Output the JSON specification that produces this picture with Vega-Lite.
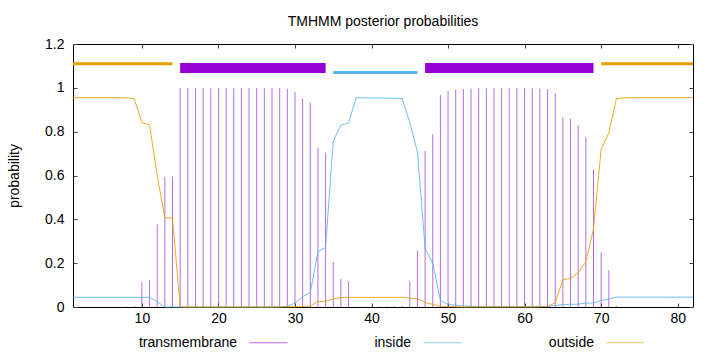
{
  "$schema": "https://vega.github.io/schema/vega-lite/v6.json",
  "width": 620,
  "height": 263,
  "autosize": {"type": "none"},
  "padding": {"left": 73, "top": 44, "right": 27, "bottom": 45},
  "background": "white",
  "title": {"text": "TMHMM posterior probabilities", "font": "Liberation Sans", "fontSize": 14, "fontWeight": "normal", "color": "black", "anchor": "middle", "offset": 8},
  "config": {
    "view": {"stroke": "black", "strokeWidth": 1},
    "font": "Liberation Sans",
    "axis": {"labelFont": "Liberation Sans", "labelFontSize": 14, "labelColor": "black", "titleFont": "Liberation Sans", "titleFontSize": 14, "titleFontWeight": "normal", "titleColor": "black", "grid": false, "domain": false, "tickColor": "#444", "tickSize": -4, "labelPadding": 8},
    "legend": {"orient": "none", "legendX": 176, "legendY": 279, "direction": "horizontal", "symbolType": "stroke", "symbolSize": 1444, "symbolStrokeWidth": 1, "labelFont": "Liberation Sans", "labelFontSize": 14, "labelColor": "black", "labelAlign": "right", "labelOffset": -51, "columnPadding": 84, "title": null, "labelLimit": 300}
  },
  "datasets": {
    "probs": [
      {"pos": 1, "transmembrane": 0.001, "inside": 0.044, "outside": 0.955},
      {"pos": 2, "transmembrane": 0.001, "inside": 0.044, "outside": 0.955},
      {"pos": 3, "transmembrane": 0.001, "inside": 0.044, "outside": 0.955},
      {"pos": 4, "transmembrane": 0.001, "inside": 0.044, "outside": 0.955},
      {"pos": 5, "transmembrane": 0.001, "inside": 0.044, "outside": 0.955},
      {"pos": 6, "transmembrane": 0.001, "inside": 0.044, "outside": 0.955},
      {"pos": 7, "transmembrane": 0.001, "inside": 0.044, "outside": 0.955},
      {"pos": 8, "transmembrane": 0.002, "inside": 0.044, "outside": 0.954},
      {"pos": 9, "transmembrane": 0.005, "inside": 0.044, "outside": 0.951},
      {"pos": 10, "transmembrane": 0.114, "inside": 0.044, "outside": 0.841},
      {"pos": 11, "transmembrane": 0.122, "inside": 0.045, "outside": 0.831},
      {"pos": 12, "transmembrane": 0.377, "inside": 0.024, "outside": 0.6},
      {"pos": 13, "transmembrane": 0.594, "inside": 0.0, "outside": 0.406},
      {"pos": 14, "transmembrane": 0.594, "inside": 0.0, "outside": 0.406},
      {"pos": 15, "transmembrane": 0.999, "inside": 0.0, "outside": 0.001},
      {"pos": 16, "transmembrane": 0.999, "inside": 0.0, "outside": 0.0},
      {"pos": 17, "transmembrane": 0.999, "inside": 0.0, "outside": 0.0},
      {"pos": 18, "transmembrane": 0.999, "inside": 0.0, "outside": 0.0},
      {"pos": 19, "transmembrane": 0.999, "inside": 0.0, "outside": 0.0},
      {"pos": 20, "transmembrane": 0.999, "inside": 0.0, "outside": 0.0},
      {"pos": 21, "transmembrane": 0.999, "inside": 0.0, "outside": 0.0},
      {"pos": 22, "transmembrane": 0.999, "inside": 0.0, "outside": 0.0},
      {"pos": 23, "transmembrane": 0.999, "inside": 0.0, "outside": 0.0},
      {"pos": 24, "transmembrane": 0.999, "inside": 0.0, "outside": 0.0},
      {"pos": 25, "transmembrane": 0.999, "inside": 0.0, "outside": 0.0},
      {"pos": 26, "transmembrane": 0.999, "inside": 0.0, "outside": 0.0},
      {"pos": 27, "transmembrane": 0.999, "inside": 0.0, "outside": 0.0},
      {"pos": 28, "transmembrane": 0.999, "inside": 0.001, "outside": 0.0},
      {"pos": 29, "transmembrane": 0.996, "inside": 0.003, "outside": 0.001},
      {"pos": 30, "transmembrane": 0.981, "inside": 0.018, "outside": 0.001},
      {"pos": 31, "transmembrane": 0.951, "inside": 0.047, "outside": 0.002},
      {"pos": 32, "transmembrane": 0.933, "inside": 0.066, "outside": 0.004},
      {"pos": 33, "transmembrane": 0.725, "inside": 0.252, "outside": 0.025},
      {"pos": 34, "transmembrane": 0.703, "inside": 0.272, "outside": 0.026},
      {"pos": 35, "transmembrane": 0.206, "inside": 0.757, "outside": 0.037},
      {"pos": 36, "transmembrane": 0.127, "inside": 0.83, "outside": 0.043},
      {"pos": 37, "transmembrane": 0.118, "inside": 0.839, "outside": 0.044},
      {"pos": 38, "transmembrane": 0.001, "inside": 0.955, "outside": 0.044},
      {"pos": 39, "transmembrane": 0.002, "inside": 0.954, "outside": 0.044},
      {"pos": 40, "transmembrane": 0.002, "inside": 0.954, "outside": 0.044},
      {"pos": 41, "transmembrane": 0.002, "inside": 0.954, "outside": 0.044},
      {"pos": 42, "transmembrane": 0.003, "inside": 0.953, "outside": 0.044},
      {"pos": 43, "transmembrane": 0.004, "inside": 0.952, "outside": 0.044},
      {"pos": 44, "transmembrane": 0.005, "inside": 0.951, "outside": 0.044},
      {"pos": 45, "transmembrane": 0.118, "inside": 0.842, "outside": 0.04},
      {"pos": 46, "transmembrane": 0.256, "inside": 0.707, "outside": 0.037},
      {"pos": 47, "transmembrane": 0.712, "inside": 0.268, "outside": 0.02},
      {"pos": 48, "transmembrane": 0.788, "inside": 0.2, "outside": 0.012},
      {"pos": 49, "transmembrane": 0.968, "inside": 0.029, "outside": 0.003},
      {"pos": 50, "transmembrane": 0.986, "inside": 0.012, "outside": 0.002},
      {"pos": 51, "transmembrane": 0.991, "inside": 0.008, "outside": 0.001},
      {"pos": 52, "transmembrane": 0.995, "inside": 0.005, "outside": 0.0},
      {"pos": 53, "transmembrane": 0.997, "inside": 0.003, "outside": 0.0},
      {"pos": 54, "transmembrane": 0.998, "inside": 0.002, "outside": 0.0},
      {"pos": 55, "transmembrane": 0.998, "inside": 0.002, "outside": 0.0},
      {"pos": 56, "transmembrane": 0.998, "inside": 0.002, "outside": 0.0},
      {"pos": 57, "transmembrane": 0.998, "inside": 0.002, "outside": 0.0},
      {"pos": 58, "transmembrane": 0.998, "inside": 0.002, "outside": 0.0},
      {"pos": 59, "transmembrane": 0.998, "inside": 0.002, "outside": 0.0},
      {"pos": 60, "transmembrane": 0.998, "inside": 0.002, "outside": 0.0},
      {"pos": 61, "transmembrane": 0.998, "inside": 0.002, "outside": 0.0},
      {"pos": 62, "transmembrane": 0.997, "inside": 0.002, "outside": 0.001},
      {"pos": 63, "transmembrane": 0.994, "inside": 0.003, "outside": 0.003},
      {"pos": 64, "transmembrane": 0.974, "inside": 0.007, "outside": 0.019},
      {"pos": 65, "transmembrane": 0.865, "inside": 0.01, "outside": 0.125},
      {"pos": 66, "transmembrane": 0.858, "inside": 0.012, "outside": 0.13},
      {"pos": 67, "transmembrane": 0.83, "inside": 0.013, "outside": 0.157},
      {"pos": 68, "transmembrane": 0.776, "inside": 0.018, "outside": 0.206},
      {"pos": 69, "transmembrane": 0.627, "inside": 0.018, "outside": 0.355},
      {"pos": 70, "transmembrane": 0.25, "inside": 0.03, "outside": 0.72},
      {"pos": 71, "transmembrane": 0.168, "inside": 0.037, "outside": 0.795},
      {"pos": 72, "transmembrane": 0.004, "inside": 0.045, "outside": 0.951},
      {"pos": 73, "transmembrane": 0.001, "inside": 0.045, "outside": 0.954},
      {"pos": 74, "transmembrane": 0.001, "inside": 0.045, "outside": 0.955},
      {"pos": 75, "transmembrane": 0.001, "inside": 0.045, "outside": 0.955},
      {"pos": 76, "transmembrane": 0.001, "inside": 0.045, "outside": 0.955},
      {"pos": 77, "transmembrane": 0.001, "inside": 0.045, "outside": 0.955},
      {"pos": 78, "transmembrane": 0.001, "inside": 0.045, "outside": 0.955},
      {"pos": 79, "transmembrane": 0.001, "inside": 0.045, "outside": 0.955},
      {"pos": 80, "transmembrane": 0.001, "inside": 0.045, "outside": 0.955},
      {"pos": 81, "transmembrane": 0.001, "inside": 0.045, "outside": 0.955},
      {"pos": 82, "transmembrane": 0.001, "inside": 0.045, "outside": 0.955}
    ],
    "segments": [
      {"region": "outside", "start": 1, "end": 14},
      {"region": "transmembrane", "start": 15, "end": 34},
      {"region": "inside", "start": 35, "end": 46},
      {"region": "transmembrane", "start": 47, "end": 69},
      {"region": "outside", "start": 70, "end": 82}
    ]
  },
  "resolve": {"axis": {"x": "independent", "y": "independent"}},
  "layer": [
    {
      "data": {"name": "probs"},
      "mark": {"type": "rule", "strokeWidth": 1, "opacity": 0.6},
      "encoding": {
        "x": {"field": "pos", "type": "quantitative", "scale": {"domain": [1, 82], "nice": false, "zero": false}, "axis": {"orient": "bottom", "values": [10, 20, 30, 40, 50, 60, 70, 80], "title": null}},
        "y": {"field": "transmembrane", "type": "quantitative", "scale": {"domain": [0, 1.2], "nice": false}, "axis": {"orient": "left", "values": [0, 0.2, 0.4, 0.6, 0.8, 1, 1.2], "format": "~g", "title": "probability", "labelPadding": 13, "titlePadding": 23}},
        "y2": {"datum": 0},
        "color": {"datum": "transmembrane", "type": "nominal", "scale": {"domain": ["transmembrane", "inside", "outside"], "range": ["#9400d3", "#56b4e9", "#e69f00"]}}
      }
    },
    {
      "data": {"name": "probs"},
      "transform": [{"fold": ["inside", "outside"], "as": ["series", "prob"]}],
      "mark": {"type": "line", "strokeWidth": 1, "opacity": 0.85},
      "encoding": {
        "x": {"field": "pos", "type": "quantitative", "axis": {"orient": "top", "values": [10, 20, 30, 40, 50, 60, 70, 80], "labels": false, "title": null}},
        "y": {"field": "prob", "type": "quantitative", "axis": {"orient": "right", "values": [0, 0.2, 0.4, 0.6, 0.8, 1, 1.2], "labels": false, "title": null}},
        "color": {"field": "series", "type": "nominal"}
      }
    },
    {
      "data": {"name": "segments"},
      "transform": [{"filter": "datum.region === 'outside'"}],
      "mark": {"type": "rule", "strokeWidth": 3, "color": "#e69f00", "strokeCap": "butt"},
      "encoding": {
        "x": {"field": "start", "type": "quantitative", "axis": null},
        "x2": {"field": "end"},
        "y": {"datum": 1.11, "axis": null}
      }
    },
    {
      "data": {"name": "segments"},
      "transform": [{"filter": "datum.region === 'transmembrane'"}],
      "mark": {"type": "rule", "strokeWidth": 10, "color": "#9400d3", "strokeCap": "butt"},
      "encoding": {
        "x": {"field": "start", "type": "quantitative", "axis": null},
        "x2": {"field": "end"},
        "y": {"datum": 1.09, "axis": null}
      }
    },
    {
      "data": {"name": "segments"},
      "transform": [{"filter": "datum.region === 'inside'"}],
      "mark": {"type": "rule", "strokeWidth": 3, "color": "#56b4e9", "strokeCap": "butt"},
      "encoding": {
        "x": {"field": "start", "type": "quantitative", "axis": null},
        "x2": {"field": "end"},
        "y": {"datum": 1.07, "axis": null}
      }
    }
  ]
}
